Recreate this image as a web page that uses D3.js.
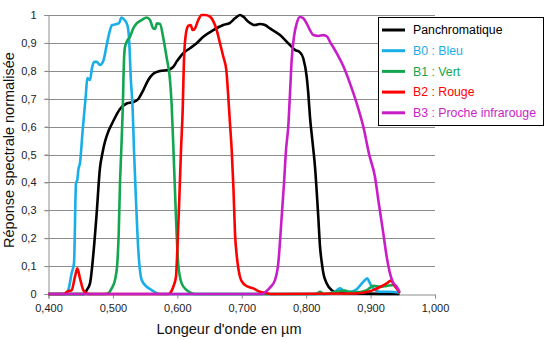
<!DOCTYPE html>
<html><head><meta charset="utf-8">
<script src="https://cdn.jsdelivr.net/npm/d3@7"></script>
<style>body{margin:0;background:#fff}svg{display:block}text{font-family:"Liberation Sans",Arial,sans-serif}</style>
</head><body><svg id="c" width="548" height="340"></svg>
<script>
const xTicks = [0.4,0.5,0.6,0.7,0.8,0.9,1.0];
const yTicks = [0,0.1,0.2,0.3,0.4,0.5,0.6,0.7,0.8,0.9,1];
const seriesNames = ["Panchromatique","B0 : Bleu","B1 : Vert","B2 : Rouge","B3 : Proche infrarouge"];
const seriesColors = ["#000000","#1AAEE8","#14A550","#FF0000","#C81EC8"];

const panWl  = [0.400,0.455,0.4593,0.4644,0.4695,0.4748,0.4799,0.4838,0.4862,0.4903,0.5006,0.511,0.5214,0.5316,0.5394,0.5472,0.5549,0.5627,0.573,0.5855,0.5937,0.599,0.6041,0.6092,0.6196,0.630,0.6403,0.6558,0.6713,0.6818,0.6895,0.6973,0.7024,0.7102,0.7205,0.7283,0.7361,0.7438,0.7594,0.7749,0.7826,0.7904,0.7955,0.8008,0.8033,0.8059,0.8101,0.8137,0.8188,0.8215,0.8241,0.8266,0.8319,0.8396,0.8474,0.8629,0.945];
const panVal = [0,0,0.014,0.038,0.14,0.29,0.452,0.505,0.532,0.566,0.62,0.663,0.683,0.688,0.699,0.731,0.767,0.789,0.799,0.803,0.814,0.833,0.849,0.863,0.881,0.899,0.922,0.946,0.964,0.972,0.988,1.0,0.994,0.976,0.964,0.968,0.964,0.952,0.928,0.892,0.875,0.866,0.845,0.779,0.719,0.635,0.54,0.456,0.277,0.17,0.115,0.075,0.038,0.014,0.005,0.003,0];

const blueWl  = [0.400,0.425,0.4307,0.436,0.4396,0.4427,0.4447,0.4463,0.4489,0.4531,0.4582,0.4602,0.4644,0.4675,0.4711,0.4748,0.480,0.485,0.4903,0.4955,0.4986,0.5032,0.5094,0.5133,0.5164,0.5214,0.5239,0.5254,0.5276,0.5307,0.5327,0.5358,0.5394,0.5447,0.5524,0.5602,0.568,0.573,0.835,0.8447,0.8524,0.8576,0.868,0.8784,0.8887,0.8949,0.8991,0.9042,0.9146,0.9301,0.945];
const blueVal = [0,0,0.014,0.075,0.111,0.397,0.409,0.444,0.47,0.588,0.72,0.774,0.767,0.81,0.832,0.832,0.821,0.835,0.892,0.946,0.964,0.966,0.971,0.991,0.986,0.970,0.946,0.9,0.779,0.659,0.516,0.337,0.158,0.05,0.026,0.014,0.003,0,0,0.008,0.02,0.012,0.008,0.017,0.044,0.056,0.038,0.02,0.008,0.008,0.004];

const greenWl  = [0.400,0.4877,0.4928,0.4981,0.5032,0.5068,0.509,0.511,0.513,0.5152,0.5172,0.5188,0.5214,0.5265,0.5316,0.5369,0.5447,0.5524,0.5576,0.5627,0.5653,0.5684,0.5731,0.5782,0.5835,0.5886,0.5912,0.5937,0.5963,0.599,0.6015,0.6067,0.6145,0.6223,0.6274,0.8153,0.8215,0.8277,0.8603,0.868,0.8835,0.894,0.9042,0.9146,0.925,0.9353,0.945];
const greenVal = [0,0,0.003,0.02,0.05,0.11,0.218,0.397,0.516,0.659,0.839,0.886,0.904,0.922,0.952,0.97,0.982,0.991,0.982,0.952,0.95,0.97,0.968,0.918,0.846,0.767,0.677,0.534,0.373,0.211,0.104,0.038,0.014,0.003,0,0,0.008,0,0.012,0.007,0.007,0.014,0.029,0.026,0.029,0.032,0.004];

const redWl  = [0.400,0.424,0.4287,0.436,0.4411,0.4447,0.4489,0.454,0.4593,0.4644,0.5855,0.5886,0.5937,0.5979,0.600,0.603,0.6057,0.6083,0.6103,0.6134,0.617,0.6207,0.6238,0.6274,0.6325,0.6378,0.6429,0.6507,0.6558,0.6611,0.6662,0.6713,0.676,0.6791,0.6817,0.6844,0.6872,0.6895,0.6921,0.6946,0.6973,0.7024,0.705,0.7179,0.7283,0.7387,0.747,0.8758,0.894,0.9042,0.9146,0.925,0.9317,0.9363,0.9405,0.945];
const redVal = [0,0,0.008,0.014,0.062,0.092,0.056,0.014,0.002,0,0,0.003,0.026,0.062,0.158,0.337,0.516,0.659,0.839,0.934,0.961,0.964,0.946,0.952,0.982,1.0,1.0,0.994,0.978,0.946,0.899,0.851,0.803,0.707,0.612,0.516,0.373,0.219,0.14,0.093,0.061,0.038,0.032,0.02,0.008,0.003,0,0.002,0.007,0.014,0.025,0.038,0.048,0.032,0.02,0.004];

const nirWl  = [0.400,0.7314,0.7387,0.7438,0.7516,0.7567,0.762,0.7656,0.7687,0.7722,0.7749,0.7775,0.7811,0.7853,0.7904,0.7955,0.8008,0.8059,0.8111,0.8188,0.8266,0.8323,0.837,0.8474,0.8576,0.868,0.8784,0.8887,0.898,0.9068,0.912,0.9197,0.925,0.9301,0.9343,0.9405,0.945];
const nirVal = [0,0,0.011,0.023,0.05,0.11,0.277,0.397,0.516,0.6,0.719,0.839,0.922,0.97,0.993,0.988,0.97,0.946,0.928,0.925,0.928,0.923,0.904,0.863,0.817,0.755,0.684,0.6,0.498,0.42,0.337,0.218,0.134,0.074,0.044,0.026,0.008];

const series = [[panWl,panVal],[blueWl,blueVal],[greenWl,greenVal],[redWl,redVal],[nirWl,nirVal]];

const svg = d3.select("#c");
const x = d3.scaleLinear().domain([0.4,1.0]).range([48.5,435]);
const y = d3.scaleLinear().domain([0,1]).range([294,15]);
const fmtX = v => d3.format(".3f")(v).replace(".",",");
const fmtY = v => v===0?"0":(v===1?"1":d3.format(".1f")(v).replace(".",","));

// gridlines
svg.append("g").selectAll("line").data(yTicks.filter(d=>d>0)).join("line")
  .attr("x1",44.5).attr("x2",435).attr("y1",d=>Math.round(y(d))+0.5).attr("y2",d=>Math.round(y(d))+0.5)
  .attr("stroke","#8c8c8c").attr("stroke-width",1);

// y axis
const ya = svg.append("g").attr("transform","translate(48.5,0)")
  .call(d3.axisLeft(y).tickValues(yTicks).tickFormat(fmtY).tickSize(4).tickPadding(8));
ya.select(".domain").attr("stroke","#8c8c8c");
ya.selectAll(".tick line").attr("stroke","#8c8c8c");
ya.selectAll("text").attr("font-size",11).attr("fill","#222").attr("font-family","'Liberation Sans',Arial,sans-serif");

// x axis
const xa = svg.append("g").attr("transform","translate(0,294.5)")
  .call(d3.axisBottom(x).tickValues(xTicks).tickFormat(fmtX).tickSize(4).tickPadding(6));
xa.select(".domain").attr("stroke","#8c8c8c");
xa.selectAll(".tick line").attr("stroke","#8c8c8c");
xa.selectAll("text").attr("font-size",11).attr("fill","#222").attr("font-family","'Liberation Sans',Arial,sans-serif");

// curves
const line = d3.line().x(d=>x(d[0])).y(d=>y(d[1])).curve(d3.curveMonotoneX);
series.forEach((s,i)=>{
  const pts = s[0].map((w,j)=>[w,s[1][j]]);
  svg.append("path").datum(pts).attr("d",line).attr("fill","none")
    .attr("stroke",seriesColors[i]).attr("stroke-width",2.6).attr("stroke-linejoin","round");
});

// axis titles
svg.append("text").attr("transform","translate(14,150) rotate(-90)").attr("text-anchor","middle")
  .attr("font-size",14.5).attr("fill","#111").text("Réponse spectrale normalisée");
svg.append("text").attr("x",229).attr("y",334).attr("text-anchor","middle")
  .attr("font-size",14.5).attr("fill","#111").text("Longeur d'onde en µm");

// legend
const lg = svg.append("g");
lg.append("rect").attr("x",378.5).attr("y",17.5).attr("width",165).attr("height",108)
  .attr("fill","#fff").attr("stroke","#000").attr("stroke-width",1);
seriesNames.forEach((n,i)=>{
  const cy = 30 + i*20.7;
  lg.append("line").attr("x1",382).attr("x2",405).attr("y1",cy).attr("y2",cy)
    .attr("stroke",seriesColors[i]).attr("stroke-width",3);
  lg.append("text").attr("x",413).attr("y",cy+4.3).attr("font-size",12.3)
    .attr("fill",seriesColors[i]).text(n);
});
</script></body></html>
